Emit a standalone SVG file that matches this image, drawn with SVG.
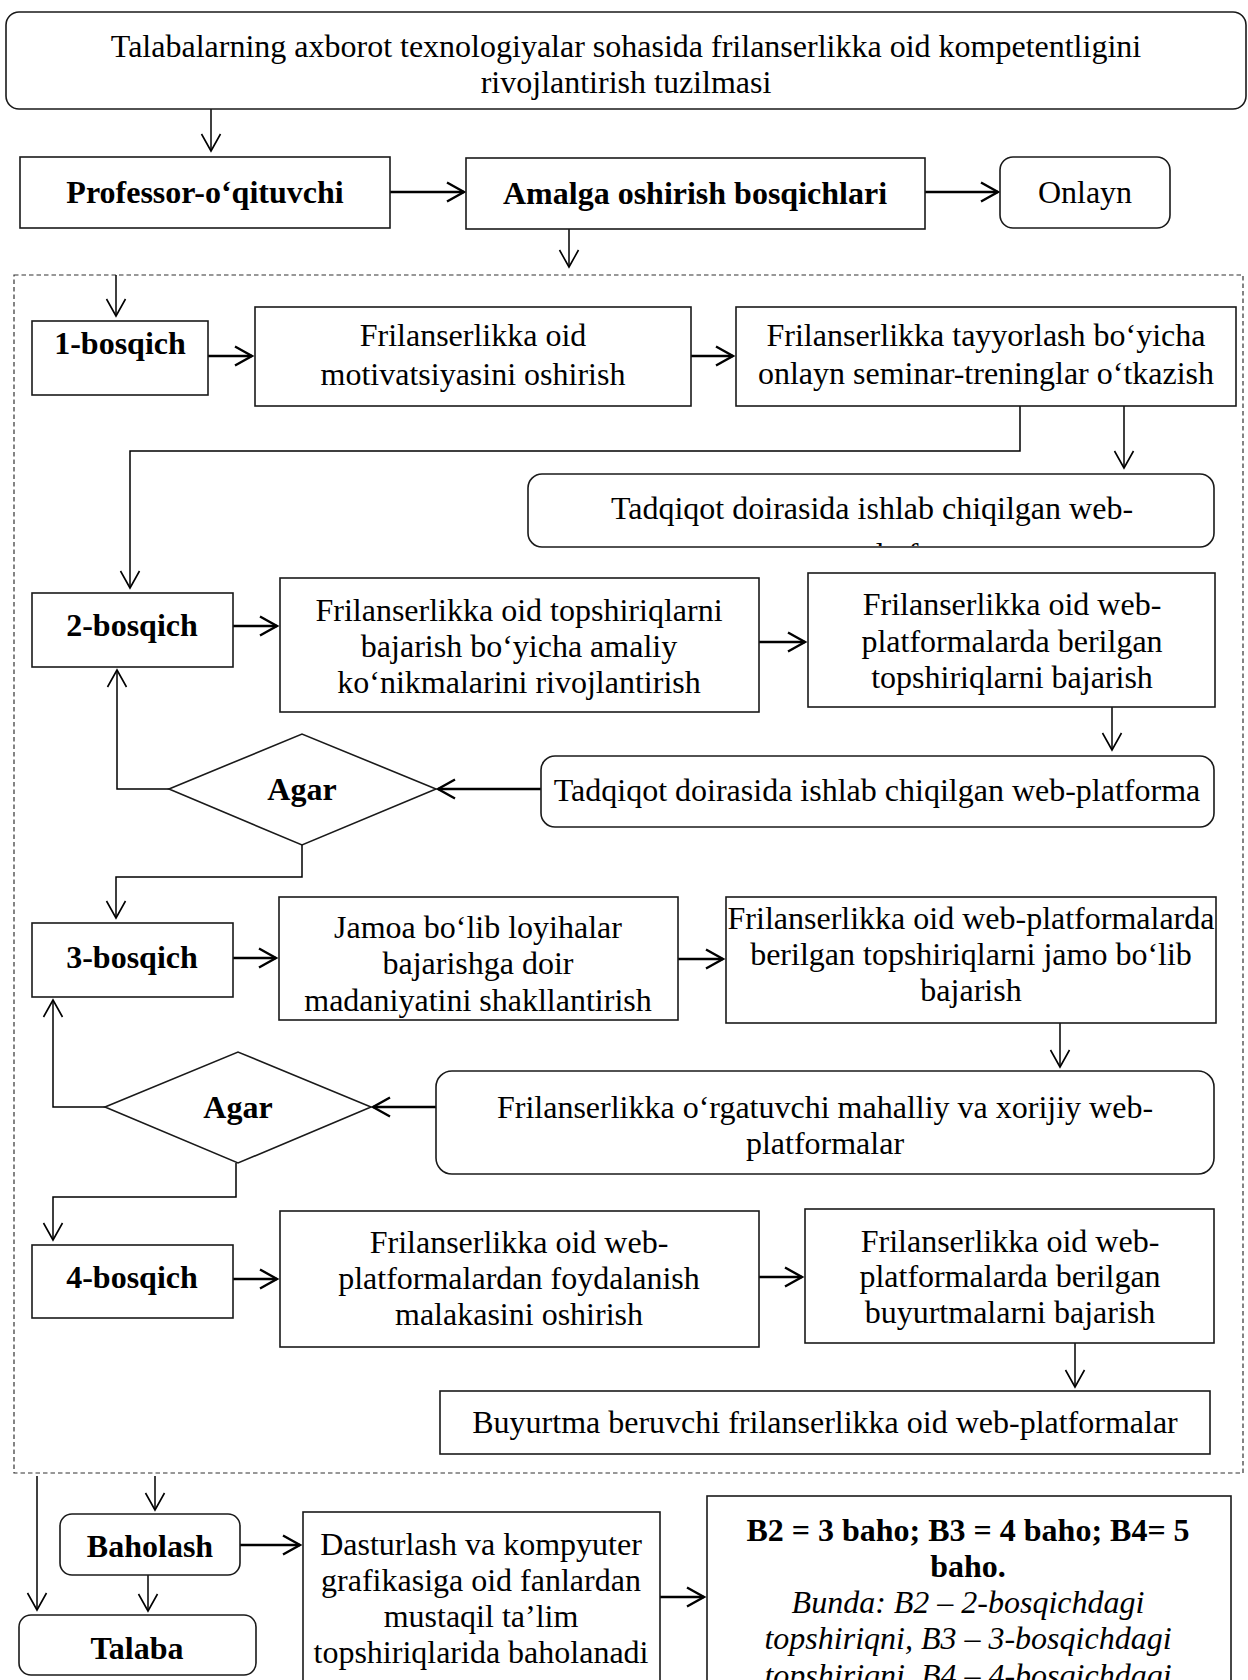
<svg xmlns="http://www.w3.org/2000/svg" width="1248" height="1680" viewBox="0 0 1248 1680">
<defs>
<style>
text{font-family:"Liberation Serif","Times New Roman",serif;font-size:32px;fill:#000;text-anchor:middle}
.b{font-weight:bold}
.i{font-style:italic}
.box{fill:#fff;stroke:#1a1a1a;stroke-width:1.6}
.ln{fill:none;stroke:#000;stroke-width:1.5}
.th{fill:none;stroke:#000;stroke-width:2.6}
.dash{fill:none;stroke:#333;stroke-width:1.2;stroke-dasharray:4.5 3}
</style>
<marker id="a" viewBox="0 0 22 22" markerWidth="22" markerHeight="22" refX="19" refY="11" orient="auto" markerUnits="userSpaceOnUse">
<path d="M2,1.5 L19,11 L2,20.5" fill="none" stroke="#000" stroke-width="1.6"/>
</marker>
<marker id="at" viewBox="0 0 22 22" markerWidth="22" markerHeight="22" refX="19" refY="11" orient="auto" markerUnits="userSpaceOnUse">
<path d="M2,1.5 L19,11 L2,20.5" fill="none" stroke="#000" stroke-width="2.4"/>
</marker>
<clipPath id="c1"><rect x="530" y="476" width="682" height="70"/></clipPath>
</defs>

<rect class="dash" x="14" y="275" width="1229" height="1198"/>

<g id="connectors">
<line class="ln" x1="211" y1="109" x2="211" y2="151" marker-end="url(#a)"/>
<line class="th" x1="390" y1="192" x2="464" y2="192" marker-end="url(#at)"/>
<line class="th" x1="925" y1="192" x2="998" y2="192" marker-end="url(#at)"/>
<line class="ln" x1="569" y1="229" x2="569" y2="267" marker-end="url(#a)"/>
<line class="ln" x1="116" y1="275" x2="116" y2="316" marker-end="url(#a)"/>
<line class="th" x1="208" y1="356" x2="252" y2="356" marker-end="url(#at)"/>
<line class="th" x1="691" y1="356" x2="733" y2="356" marker-end="url(#at)"/>
<polyline class="ln" points="1020,406 1020,451 130,451 130,588" marker-end="url(#a)"/>
<line class="ln" x1="1124" y1="406" x2="1124" y2="468" marker-end="url(#a)"/>
<line class="th" x1="233" y1="626" x2="277" y2="626" marker-end="url(#at)"/>
<line class="th" x1="759" y1="642" x2="805" y2="642" marker-end="url(#at)"/>
<line class="ln" x1="1112" y1="707" x2="1112" y2="750" marker-end="url(#a)"/>
<line class="th" x1="541" y1="789" x2="438" y2="789" marker-end="url(#at)"/>
<polyline class="ln" points="169,789 117,789 117,670" marker-end="url(#a)"/>
<polyline class="ln" points="302,845 302,877 116,877 116,918" marker-end="url(#a)"/>
<line class="th" x1="233" y1="958" x2="276" y2="958" marker-end="url(#at)"/>
<line class="th" x1="678" y1="959" x2="723" y2="959" marker-end="url(#at)"/>
<line class="ln" x1="1060" y1="1023" x2="1060" y2="1067" marker-end="url(#a)"/>
<line class="th" x1="436" y1="1107" x2="373" y2="1107" marker-end="url(#at)"/>
<polyline class="ln" points="105,1107 53,1107 53,1000" marker-end="url(#a)"/>
<polyline class="ln" points="236,1163 236,1197 53,1197 53,1240" marker-end="url(#a)"/>
<line class="th" x1="233" y1="1279" x2="277" y2="1279" marker-end="url(#at)"/>
<line class="th" x1="759" y1="1277" x2="802" y2="1277" marker-end="url(#at)"/>
<line class="ln" x1="1075" y1="1343" x2="1075" y2="1387" marker-end="url(#a)"/>
<line class="ln" x1="37" y1="1476" x2="37" y2="1610" marker-end="url(#a)"/>
<line class="ln" x1="155" y1="1476" x2="155" y2="1510" marker-end="url(#a)"/>
<line class="ln" x1="148" y1="1575" x2="148" y2="1611" marker-end="url(#a)"/>
<line class="th" x1="240" y1="1545" x2="300" y2="1545" marker-end="url(#at)"/>
<line class="th" x1="660" y1="1597" x2="704" y2="1597" marker-end="url(#at)"/>
</g>

<g id="title">
<rect class="box" x="6" y="12" width="1240" height="97" rx="13"/>
<text x="626" y="57">Talabalarning axborot texnologiyalar sohasida frilanserlikka oid kompetentligini</text>
<text x="626" y="93">rivojlantirish tuzilmasi</text>
</g>
<g id="professor">
<rect class="box" x="20" y="157" width="370" height="71"/>
<text class="b" x="205" y="203">Professor-o‘qituvchi</text>
</g>
<g id="amalga">
<rect class="box" x="466" y="158" width="459" height="71"/>
<text class="b" x="695" y="204">Amalga oshirish bosqichlari</text>
</g>
<g id="onlayn">
<rect class="box" x="1000" y="157" width="170" height="71" rx="13"/>
<text x="1085" y="203">Onlayn</text>
</g>

<g id="bosqich1">
<rect class="box" x="32" y="321" width="176" height="74"/>
<text class="b" x="120" y="354">1-bosqich</text>
</g>
<g id="motivatsiya">
<rect class="box" x="255" y="307" width="436" height="99"/>
<text x="473" y="346">Frilanserlikka oid</text>
<text x="473" y="385">motivatsiyasini oshirish</text>
</g>
<g id="seminar">
<rect class="box" x="736" y="307" width="500" height="99"/>
<text x="986" y="346">Frilanserlikka tayyorlash bo‘yicha</text>
<text x="986" y="384">onlayn seminar-treninglar o‘tkazish</text>
</g>
<g id="tadqiqot1">
<rect class="box" x="528" y="474" width="686" height="73" rx="14"/>
<text x="872" y="519">Tadqiqot doirasida ishlab chiqilgan web-</text>
<text x="922" y="565" clip-path="url(#c1)">platforma</text>
</g>

<g id="bosqich2">
<rect class="box" x="32" y="593" width="201" height="74"/>
<text class="b" x="132" y="636">2-bosqich</text>
</g>
<g id="amaliy">
<rect class="box" x="280" y="578" width="479" height="134"/>
<text x="519" y="621">Frilanserlikka oid topshiriqlarni</text>
<text x="519" y="657">bajarish bo‘yicha amaliy</text>
<text x="519" y="693">ko‘nikmalarini rivojlantirish</text>
</g>
<g id="topshiriq2">
<rect class="box" x="808" y="573" width="407" height="134"/>
<text x="1012" y="615">Frilanserlikka oid web-</text>
<text x="1012" y="652">platformalarda berilgan</text>
<text x="1012" y="688">topshiriqlarni bajarish</text>
</g>
<g id="tadqiqot2">
<rect class="box" x="541" y="756" width="673" height="71" rx="14"/>
<text x="877" y="801">Tadqiqot doirasida ishlab chiqilgan web-platforma</text>
</g>
<g id="agar1">
<polygon class="box" points="169,789 302,734 436,789 302,845"/>
<text class="b" x="302" y="800">Agar</text>
</g>

<g id="bosqich3">
<rect class="box" x="32" y="923" width="201" height="74"/>
<text class="b" x="132" y="968">3-bosqich</text>
</g>
<g id="jamoa">
<rect class="box" x="279" y="897" width="399" height="123"/>
<text x="478" y="938">Jamoa bo‘lib loyihalar</text>
<text x="478" y="974">bajarishga doir</text>
<text x="478" y="1011">madaniyatini shakllantirish</text>
</g>
<g id="topshiriq3">
<rect class="box" x="726" y="897" width="490" height="126"/>
<text x="971" y="929">Frilanserlikka oid web-platformalarda</text>
<text x="971" y="965">berilgan topshiriqlarni jamo bo‘lib</text>
<text x="971" y="1001">bajarish</text>
</g>
<g id="mahalliy">
<rect class="box" x="436" y="1071" width="778" height="103" rx="16"/>
<text x="825" y="1118">Frilanserlikka o‘rgatuvchi mahalliy va xorijiy web-</text>
<text x="825" y="1154">platformalar</text>
</g>
<g id="agar2">
<polygon class="box" points="105,1107 238,1052 371,1107 238,1163"/>
<text class="b" x="238" y="1118">Agar</text>
</g>

<g id="bosqich4">
<rect class="box" x="32" y="1245" width="201" height="73"/>
<text class="b" x="132" y="1288">4-bosqich</text>
</g>
<g id="malaka">
<rect class="box" x="280" y="1211" width="479" height="136"/>
<text x="519" y="1253">Frilanserlikka oid web-</text>
<text x="519" y="1289">platformalardan foydalanish</text>
<text x="519" y="1325">malakasini oshirish</text>
</g>
<g id="buyurtma">
<rect class="box" x="805" y="1209" width="409" height="134"/>
<text x="1010" y="1252">Frilanserlikka oid web-</text>
<text x="1010" y="1287">platformalarda berilgan</text>
<text x="1010" y="1323">buyurtmalarni bajarish</text>
</g>
<g id="beruvchi">
<rect class="box" x="440" y="1391" width="770" height="63"/>
<text x="825" y="1433">Buyurtma beruvchi frilanserlikka oid web-platformalar</text>
</g>

<g id="baholash">
<rect class="box" x="60" y="1514" width="180" height="61" rx="12"/>
<text class="b" x="150" y="1557">Baholash</text>
</g>
<g id="talaba">
<rect class="box" x="19" y="1615" width="237" height="60" rx="12"/>
<text class="b" x="137" y="1659">Talaba</text>
</g>
<g id="dasturlash">
<rect class="box" x="303" y="1512" width="357" height="200"/>
<text x="481" y="1555">Dasturlash va kompyuter</text>
<text x="481" y="1591">grafikasiga oid fanlardan</text>
<text x="481" y="1627">mustaqil ta’lim</text>
<text x="481" y="1663">topshiriqlarida baholanadi</text>
</g>
<g id="baho">
<rect class="box" x="707" y="1496" width="524" height="220"/>
<text class="b" x="968" y="1541">B2 = 3 baho; B3 = 4 baho; B4= 5</text>
<text class="b" x="968" y="1577">baho.</text>
<text class="i" x="968" y="1613">Bunda: B2 – 2-bosqichdagi</text>
<text class="i" x="968" y="1649">topshiriqni, B3 – 3-bosqichdagi</text>
<text class="i" x="968" y="1686">topshiriqni, B4 – 4-bosqichdagi</text>
</g>
</svg>
